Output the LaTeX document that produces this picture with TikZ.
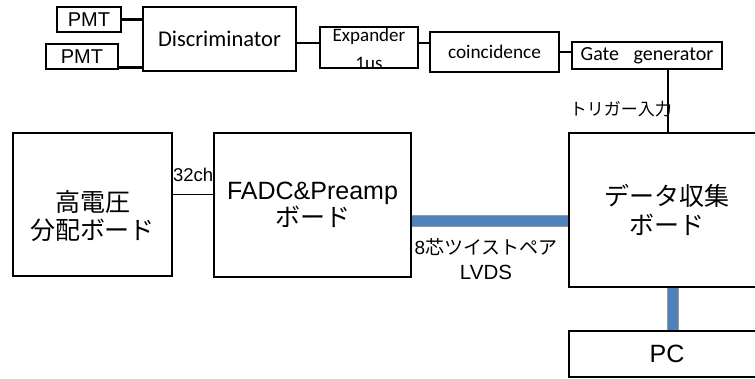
\documentclass[tikz,border=0pt]{standalone}
\usepackage{fontspec}
\setmainfont{Liberation Sans}
\newfontfamily\jpfont{Noto Sans CJK JP}
\newfontfamily\calfont{Carlito}
\usepackage{tikz}
\usetikzlibrary{positioning,calc}
\definecolor{busBlue}{HTML}{4F81BD}

\begin{document}
\begin{tikzpicture}[
  x=1pt, y=-1pt,
  mod/.style={draw, line width=2.6pt, inner sep=0pt, align=center},
  board/.style={draw, line width=1.6pt, inner sep=0pt, align=center,
    font=\fontsize{25}{28}\selectfont},
  sig/.style={line width=2.6pt},
  bus/.style={draw=gray!80, double=busBlue, double distance=10pt, line width=1pt}
]
\useasboundingbox (0,0) rectangle (755,379);
\clip (0,0) rectangle (755,379);

% trigger chain
\node[mod, minimum width=64pt, minimum height=25pt, font=\fontsize{20}{24}\selectfont] (pmtA) at (89,19.5) {PMT};
\node[mod, minimum width=72pt, minimum height=25pt, font=\fontsize{20}{24}\selectfont] (pmtB) at (82,56.5) {PMT};
\node[mod, minimum width=153pt, minimum height=64pt, font=\calfont\fontsize{22.5}{27}\selectfont] (disc) at (219.5,39) {Discriminator};
\node[mod, minimum width=98pt, minimum height=41pt, font=\calfont\fontsize{19}{25}\selectfont] (expd) at (369,47.5) {Expander\\\smash{\raisebox{-3pt}{1us}}};
\node[mod, minimum width=129pt, minimum height=40pt, font=\calfont\fontsize{19.3}{24}\selectfont] (coin) at (494.5,52) {coincidence};
\node[mod, minimum width=150pt, minimum height=27pt, font=\calfont\fontsize{20}{24}\selectfont] (gate) at (647,55.5) {Gate\hspace{10pt} generator};

\draw[sig] (pmtA.east) -- (pmtA.east -| disc.west);
\draw[sig] ([yshift=3pt]pmtB.south east) coordinate (pmtBout) -- (pmtBout -| disc.west);
\draw[sig] ([yshift=-4pt]disc.east) coordinate (discout) -- (discout -| expd.west);
\draw[sig] ([yshift=4.5pt]expd.east) coordinate (expdout) -- (expdout -| coin.west);
\draw[sig] (coin.east) -- (coin.east -| gate.west);

% boards
\node[board, minimum width=159pt, minimum height=143pt,
  label={[align=center, yshift=-11.5pt, font=\jpfont\fontsize{25}{28}\selectfont]center:高電圧\\分配ボード}] (hv) at (92.5,204.5) {};
\node[board, minimum width=197pt, minimum height=144pt, font=\fontsize{25}{23}\selectfont] (fadc) at (312.5,205) {FADC\&Preamp\\{\jpfont ボード}};
\node[board, minimum width=196pt, minimum height=154pt, font=\jpfont\fontsize{25}{29}\selectfont] (daq) at (667,210) {データ収集\\ボード};
\node[board, minimum width=196pt, minimum height=46pt] (pc) at (667,354) {PC};

\draw[sig] ([xshift=21pt]gate.south) coordinate (trig) -- (trig |- daq.north);
\node[anchor=east, inner sep=0pt, font=\jpfont\fontsize{17}{20}\selectfont] (triglbl) at (672,109) {トリガー入力};

\draw[line width=0.9pt] ([yshift=10.5pt]hv.east) coordinate (hvout) -- (hvout -| fadc.west);
\node[anchor=base west, inner sep=0pt, font=\fontsize{18.5}{22}\selectfont] (chlbl) at ([yshift=12pt]hvout) {32ch};

\draw[bus] ([yshift=-16pt]fadc.east) coordinate (fadcout) -- (fadcout -| daq.west);
\node[align=center, inner sep=0pt, font=\fontsize{19}{25}\selectfont] (buslbl) at (486,259) {8{\jpfont 芯ツイストペア}\\{\fontsize{20.5}{25}\selectfont LVDS}};
\draw[bus] ([xshift=6pt]daq.south) coordinate (daqout) -- (daqout |- pc.north);
\end{tikzpicture}
\end{document}
